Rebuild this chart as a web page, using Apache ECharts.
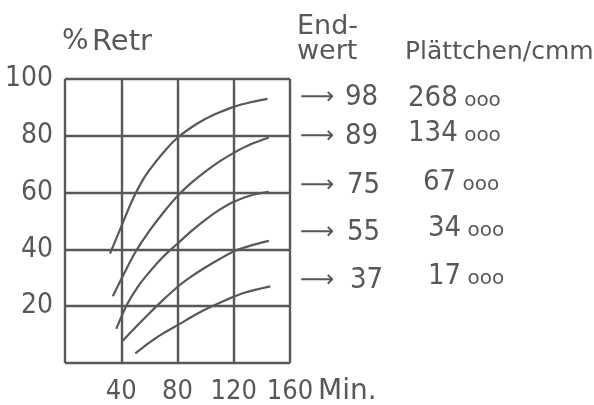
<!DOCTYPE html>
<html>
<head>
<meta charset="utf-8">
<script src="https://cdn.jsdelivr.net/npm/echarts@6/dist/echarts.min.js"></script>
<style>
  html, body { margin: 0; padding: 0; background: #fff; }
  #chart { width: 594px; height: 405px; }
</style>
</head>
<body>
<div id="chart"></div>
<script>
// retraction curves, [minutes, % Retr]
const curve98 = [[32, 38.5], [40, 48], [48, 57.5], [56, 65], [64, 70.5], [72, 75.3], [80, 79.3], [90, 83], [100, 86], [110, 88.3], [120, 90.2], [132, 91.8], [144, 93]]
const curve89 = [[34, 23.5], [42, 31.5], [50, 39], [60, 46.5], [70, 53], [80, 58.8], [90, 63.5], [100, 67.5], [110, 71], [120, 74], [132, 77], [145, 79.4]]
const curve75 = [[36.5, 12], [44, 20.5], [52, 27], [60, 32], [70, 37.5], [80, 42], [90, 46.5], [100, 50.5], [110, 54], [120, 56.8], [132, 59], [145, 60.3]]
const curve55 = [[41, 7.8], [50, 12.5], [60, 17.5], [70, 22.3], [81, 27.2], [90, 30.5], [100, 33.7], [110, 36.6], [121, 39.5], [133, 41.5], [145, 43]]
const curve37 = [[50, 3.4], [60, 7.2], [70, 10.5], [81, 13.6], [92, 16.8], [103, 19.6], [115, 22.3], [128, 24.8], [146, 27]]

const endValues = ['98', '89', '75', '55', '37']
const plateletCounts = ['268', '134', '67', '34', '17']

const xTicks = [0, 40, 80, 120, 160]
const yTicks = [0, 20, 40, 60, 80, 100]

const ink = '#585858'
const numFont = '"Liberation Sans Narrow", "DejaVu Sans Condensed", "Liberation Sans", sans-serif'
const txtFont = '"DejaVu Sans", sans-serif'

const chart = echarts.init(document.getElementById('chart'), null, { renderer: 'canvas' })

// right-hand annotations (y centres per row)
const rowY = [97, 136, 185, 232, 280]
const endX = [345, 345, 347, 347, 350]
const countX = [408, 408, 423, 428, 428]
const countY = [98, 133, 182, 228, 276]

const graphic = [
  { type: 'text', x: 62, y: 42, style: { text: '%', font: '28px ' + txtFont, fill: ink, verticalAlign: 'middle' } },
  { type: 'text', x: 92, y: 42, style: { text: 'Retr', font: '29px ' + txtFont, fill: ink, verticalAlign: 'middle' } },
  { type: 'text', x: 297, y: 27, style: { text: 'End-', font: '27px ' + txtFont, fill: ink, verticalAlign: 'middle' } },
  { type: 'text', x: 297, y: 52, style: { text: 'wert', font: '27px ' + txtFont, fill: ink, verticalAlign: 'middle' } },
  { type: 'text', x: 405, y: 52, style: { text: 'Plättchen/cmm', font: '25px ' + txtFont, fill: ink, verticalAlign: 'middle' } },
  { type: 'text', x: 318, y: 392, style: { text: 'Min.', font: '28px ' + txtFont, fill: ink, verticalAlign: 'middle' } },
]
endValues.forEach((v, i) => {
  graphic.push({ type: 'text', x: 300, y: rowY[i] + 1, style: { text: '⟶', font: '24px ' + txtFont, fill: ink, verticalAlign: 'middle' } })
  graphic.push({ type: 'text', x: endX[i], y: rowY[i], style: { text: v, font: '29px ' + numFont, fill: ink, verticalAlign: 'middle' } })
})
plateletCounts.forEach((v, i) => {
  graphic.push({
    type: 'text', x: countX[i], y: countY[i],
    style: {
      text: '{n|' + v + '}{o| ooo}',
      verticalAlign: 'middle',
      rich: {
        n: { font: '29px ' + numFont, fill: ink, verticalAlign: 'bottom', lineHeight: 30 },
        o: { font: '20px ' + txtFont, fill: ink, verticalAlign: 'bottom', lineHeight: 30, padding: [0, 0, 2, 0] },
      },
    },
  })
})

const series = [curve98, curve89, curve75, curve55, curve37].map((d, i) => ({
  type: 'line',
  name: endValues[i],
  data: d,
  smooth: 0.3,
  showSymbol: false,
  silent: true,
  lineStyle: { color: ink, width: 2.2 },
}))

chart.setOption({
  backgroundColor: '#fff',
  animation: false,
  grid: { left: 65, top: 79, right: 304, bottom: 42 },
  xAxis: {
    type: 'value',
    min: xTicks[0],
    max: xTicks[xTicks.length - 1],
    interval: 40,
    axisLine: { show: false },
    axisTick: { show: false },
    splitLine: { show: true, lineStyle: { color: ink, width: 2.4 } },
    axisLabel: {
      showMinLabel: false,
      margin: 15,
      color: ink,
      fontSize: 27,
      fontFamily: numFont,
    },
  },
  yAxis: {
    type: 'value',
    min: yTicks[0],
    max: yTicks[yTicks.length - 1],
    interval: 20,
    axisLine: { show: false },
    axisTick: { show: false },
    splitLine: { show: true, lineStyle: { color: ink, width: 2.4 } },
    axisLabel: {
      showMinLabel: false,
      margin: 12,
      padding: [5, 0, 0, 0],
      color: ink,
      fontSize: 28,
      fontFamily: numFont,
    },
  },
  graphic,
  series,
})
</script>
</body>
</html>
